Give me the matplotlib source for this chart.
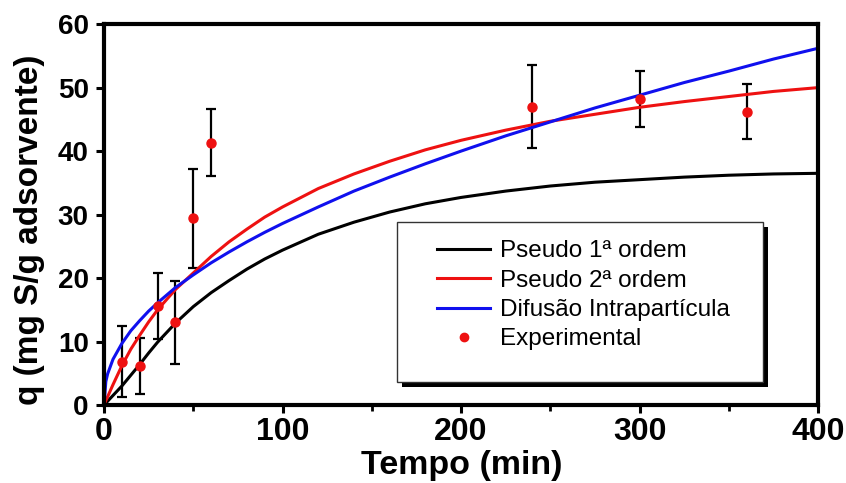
import matplotlib
matplotlib.use("Agg")
import matplotlib.pyplot as plt
from matplotlib.patches import Rectangle

plt.rcParams['font.family'] = ['Liberation Sans', 'DejaVu Sans']

# experimental points
t_exp = [10, 20, 30, 40, 50, 60, 240, 300, 360]
q_exp = [6.8, 6.2, 15.6, 13.0, 29.4, 41.3, 47.0, 48.2, 46.2]
q_err = [5.6, 4.4, 5.2, 6.5, 7.8, 5.3, 6.5, 4.4, 4.3]

# model curves, values
t_fit = [0, 1, 2, 5, 10, 15, 20, 25, 30, 40, 50, 60, 70, 80, 90, 100, 120, 140,
         160, 180, 200, 225, 250, 275, 300, 325, 350, 375, 400]
q_pfo = [0, 0.3, 0.6, 1.5, 3.0, 4.7, 6.4, 8.2, 9.9, 12.9, 15.5, 17.7, 19.6, 21.4,
         23.0, 24.4, 26.9, 28.8, 30.4, 31.7, 32.7, 33.7, 34.5, 35.1, 35.5, 35.9,
         36.2, 36.4, 36.5]
q_pso = [0, 0.7, 1.3, 3.2, 6.2, 8.8, 11.0, 13.1, 15.0, 18.2, 20.8, 23.4, 25.7, 27.7,
         29.6, 31.2, 34.1, 36.4, 38.4, 40.2, 41.7, 43.3, 44.7, 45.8, 46.9, 47.8,
         48.6, 49.4, 50.0]
q_dif = [0, 3.7, 4.9, 7.2, 9.7, 11.7, 13.3, 14.8, 16.1, 18.5, 20.5, 22.4, 24.1, 25.7,
         27.2, 28.6, 31.2, 33.7, 35.9, 38.0, 40.0, 42.4, 44.6, 46.8, 48.8, 50.8,
         52.6, 54.5, 56.2]

fig = plt.figure(figsize=(8.46, 4.83), dpi=100)
ax = fig.add_axes([0.123, 0.1615, 0.844, 0.7885])

ax.errorbar(t_exp, q_exp, yerr=q_err, fmt='none', ecolor='black',
            elinewidth=1.6, capsize=3.3, capthick=1.6, zorder=1)
ax.plot(t_fit, q_pfo, color='black', lw=2.2, label='Pseudo 1ª ordem', zorder=2)
ax.plot(t_fit, q_pso, color='#ee1111', lw=2.2, label='Pseudo 2ª ordem', zorder=2)
ax.plot(t_fit, q_dif, color='#1010ee', lw=2.2, label='Difusão Intrapartícula', zorder=2)
ax.plot(t_exp, q_exp, 'o', color='#ee1111', ms=6.5, label='Experimental', zorder=3,
        clip_on=False)

ax.set_xlim(0, 400)
ax.set_ylim(0, 60)
ax.set_xticks([0, 100, 200, 300, 400])
ax.set_xticks([50, 150, 250, 350], minor=True)
ax.set_yticks(range(0, 61, 10))
for s in ax.spines.values():
    s.set_linewidth(3)
ax.tick_params(axis='both', which='major', direction='out', length=6, width=2.2,
               top=False, right=False)
ax.tick_params(axis='x', which='minor', direction='out', length=4, width=2)
ax.tick_params(axis='x', pad=3, labelsize=23)
ax.tick_params(axis='y', pad=5, labelsize=20)
for lab in ax.get_xticklabels() + ax.get_yticklabels():
    lab.set_fontweight('bold')

ax.set_xlabel('Tempo (min)', fontsize=24.5, fontweight='bold')
ax.xaxis.set_label_coords(0.501, -0.118)
ax.set_ylabel('q (mg S/g adsorvente)', fontsize=24, fontweight='bold', va='center')
ax.yaxis.set_label_coords(-0.104, 0.459)

# legend frame with black drop shadow
x0, x1, y0, y1 = 0.410, 0.923, 0.060, 0.480
ax.add_patch(Rectangle((x0 + 0.007, y0 - 0.013), x1 - x0, y1 - y0, transform=ax.transAxes,
                       facecolor='black', edgecolor='none', zorder=4))
ax.add_patch(Rectangle((x0, y0), x1 - x0, y1 - y0, transform=ax.transAxes,
                       facecolor='white', edgecolor='#333333', lw=1.0, zorder=5))

leg = ax.legend(loc='upper left', bbox_to_anchor=(0.466, 0.432), fontsize=17.5,
                frameon=False, handlelength=2.2, handletextpad=0.4, borderpad=0,
                labelspacing=0.3, borderaxespad=0)
leg.set_zorder(6)
for h in leg.legend_handles[3:]:
    h.set_markersize(6)

fig.savefig('out.png', dpi=100)
